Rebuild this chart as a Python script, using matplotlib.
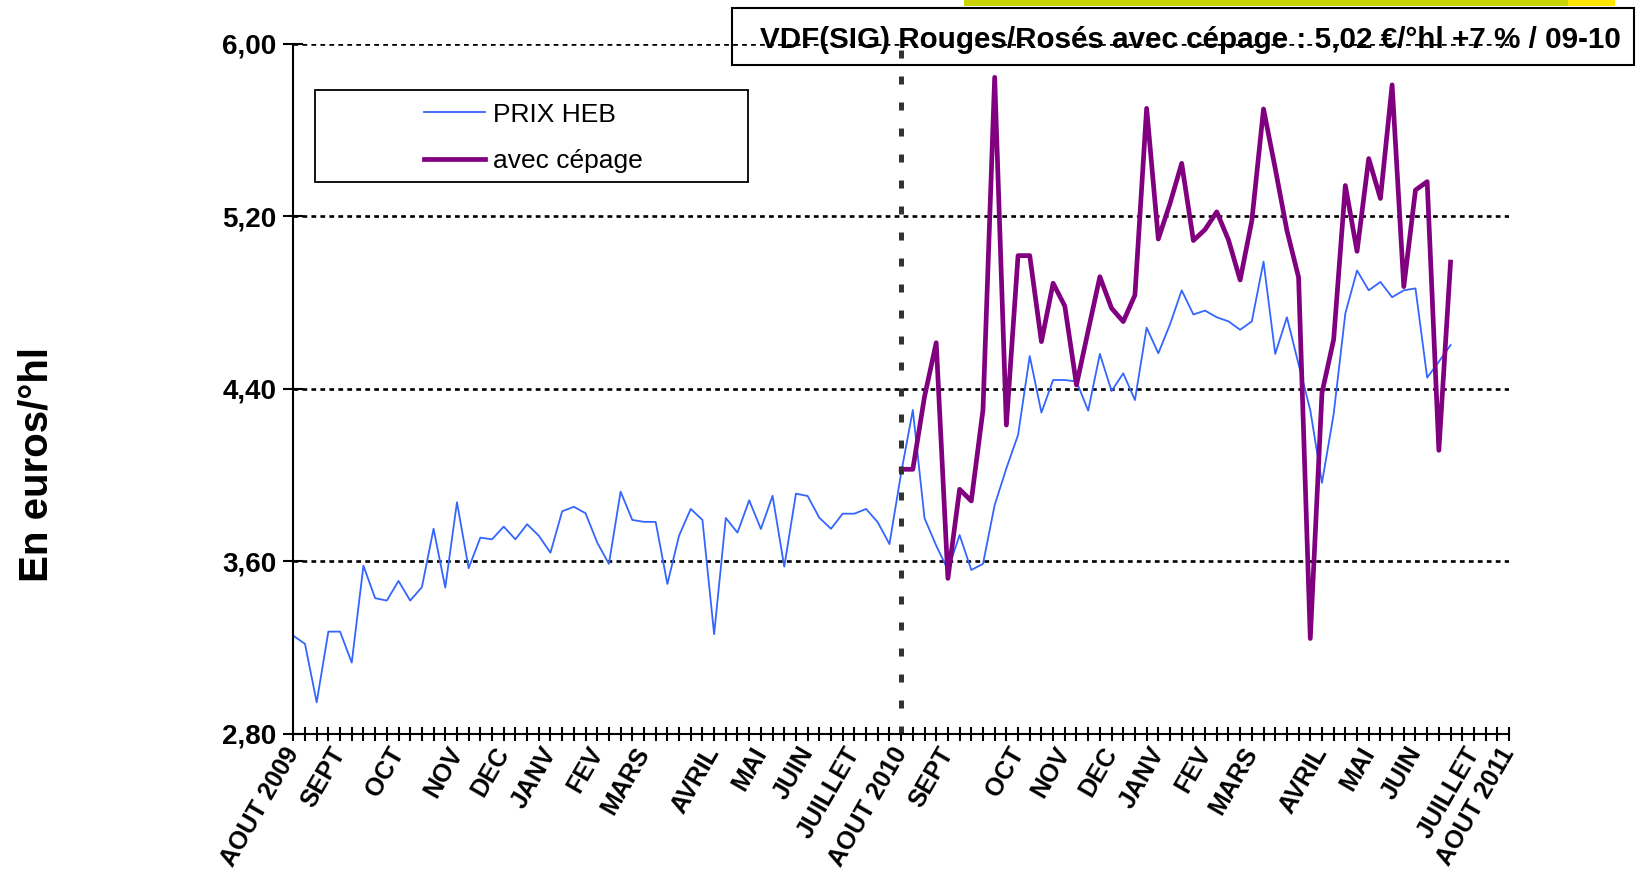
import numpy as np
import matplotlib.pyplot as plt
from matplotlib.patches import Rectangle
from matplotlib.transforms import ScaledTranslation

plt.rcParams['font.family'] = ['Liberation Sans', 'DejaVu Sans']

# prix hebdomadaires, semaine 0 = aout 2009
prix_heb = [3.255, 3.217, 2.946, 3.274, 3.274, 3.130, 3.580, 3.429, 3.418, 3.509,
            3.418, 3.480, 3.751, 3.478, 3.874, 3.568, 3.710, 3.702, 3.761, 3.702,
            3.772, 3.719, 3.640, 3.832, 3.853, 3.823, 3.687, 3.588, 3.923, 3.792,
            3.783, 3.783, 3.495, 3.719, 3.843, 3.792, 3.262, 3.801, 3.733, 3.883,
            3.750, 3.904, 3.575, 3.914, 3.903, 3.802, 3.751, 3.821, 3.821, 3.843,
            3.781, 3.680, 4.010, 4.302, 3.800, 3.673, 3.560, 3.722, 3.560, 3.588,
            3.861, 4.031, 4.186, 4.552, 4.290, 4.441, 4.441, 4.434, 4.299, 4.562,
            4.390, 4.472, 4.348, 4.684, 4.565, 4.699, 4.857, 4.745, 4.763, 4.732,
            4.713, 4.674, 4.713, 4.990, 4.562, 4.732, 4.514, 4.301, 3.964, 4.283,
            4.750, 4.949, 4.857, 4.896, 4.825, 4.857, 4.866, 4.452, 4.526, 4.603]

# avec cépage, à partir d'aout 2010 (semaine 52)
debut_cepage = 52
avec_cepage = [4.027, 4.027, 4.364, 4.614, 3.521, 3.934, 3.880, 4.302, 5.845, 4.232,
               5.018, 5.018, 4.619, 4.890, 4.784, 4.418, 4.670, 4.920, 4.774, 4.712,
               4.835, 5.701, 5.095, 5.260, 5.446, 5.088, 5.139, 5.221, 5.091, 4.905,
               5.180, 5.698, 5.423, 5.135, 4.917, 3.242, 4.381, 4.629, 5.343, 5.038,
               5.468, 5.283, 5.810, 4.874, 5.322, 5.361, 4.115, 4.988]

n_semaines = 104
mois = ['AOUT 2009', 'SEPT', 'OCT', 'NOV', 'DEC', 'JANV', 'FEV', 'MARS', 'AVRIL',
        'MAI', 'JUIN', 'JUILLET', 'AOUT 2010', 'SEPT', 'OCT', 'NOV', 'DEC', 'JANV',
        'FEV', 'MARS', 'AVRIL', 'MAI', 'JUIN', 'JUILLET', 'AOUT 2011']
mois_semaine = [0, 4, 9, 14, 18, 22, 26, 30, 36, 40, 44, 48, 52,
                56, 62, 66, 70, 74, 78, 82, 88, 92, 96, 101, 104]

y_ticks = [2.8, 3.6, 4.4, 5.2, 6.0]
y_labels = ['2,80', '3,60', '4,40', '5,20', '6,00']

titre = 'VDF(SIG) Rouges/Rosés avec cépage : 5,02 €/°hl +7 % / 09-10'

W, H = 1639, 874
fig = plt.figure(figsize=(W / 100, H / 100), dpi=100)
ax = fig.add_axes([293.3 / W, 1 - 733.8 / H, (1509 - 293.3) / W, (733.8 - 43.9) / H])

l1, = ax.plot(np.arange(len(prix_heb)), prix_heb, color='#3366ff', lw=1.3, label='PRIX HEB')
l2, = ax.plot(np.arange(debut_cepage, debut_cepage + len(avec_cepage)), avec_cepage,
              color='#800080', lw=3.4, label='avec cépage')

ax.axvline(debut_cepage, color='#333333', lw=3.6, linestyle=(0, (1.6, 3.6)))

ax.set_xlim(0, n_semaines)
ax.set_ylim(2.8, 6.0)

etiquettes = [''] * (n_semaines + 1)
for s, m in zip(mois_semaine, mois):
    etiquettes[s] = m
ax.set_xticks(range(n_semaines + 1), etiquettes, rotation=60, ha='right', va='center',
              rotation_mode='anchor', fontsize=18, fontweight='bold')
decalage = ScaledTranslation(-0.05, 0, fig.dpi_scale_trans)
for lab in ax.get_xticklabels():
    lab.set_transform(lab.get_transform() + decalage)
ax.set_yticks(y_ticks, y_labels, fontsize=20, fontweight='bold')
ax.tick_params(axis='x', direction='inout', length=9.5, width=1.5, pad=6)
ax.tick_params(axis='y', direction='inout', length=14, width=1.5, pad=5)

for side in ['top', 'right']:
    ax.spines[side].set_visible(False)
for side in ['left', 'bottom']:
    ax.spines[side].set_linewidth(1.5)

ax.grid(axis='y', color='black', linestyle=(0, (1.8, 1.6)), linewidth=1.9)
ax.grid(axis='x', visible=False)

# légende
fig.add_artist(Rectangle((315 / W, 1 - 182 / H), 433 / W, 92 / H, transform=fig.transFigure,
                         fill=False, ec='black', lw=1.3))
ax.legend(handles=[l1, l2], loc='center left', bbox_to_anchor=(424 / W, 1 - 138 / H),
          bbox_transform=fig.transFigure, frameon=False, fontsize=19, handlelength=2.3,
          handletextpad=0.3, labelspacing=0.87, borderpad=0, borderaxespad=0)

# bandeau titre
fig.add_artist(Rectangle((964 / W, 1 - 6.3 / H), 604 / W, 6.3 / H, transform=fig.transFigure,
                         fc='#c8d400', ec='none'))
fig.add_artist(Rectangle((1568 / W, 1 - 6.3 / H), 47 / W, 6.3 / H, transform=fig.transFigure,
                         fc='#ffe600', ec='none'))
fig.add_artist(Rectangle((731.7 / W, 1 - 64.8 / H), 902 / W, 56.4 / H, transform=fig.transFigure,
                         fill=False, ec='black', lw=1.5))
fig.text(1190 / W, 1 - 40 / H, titre, ha='center', va='center', fontsize=21.3, fontweight='bold')

fig.text(36.6 / W, 1 - 465 / H, 'En euros/°hl', rotation=90, ha='center', va='center',
         fontsize=29, fontweight='bold')

fig.savefig('out.png', dpi=100)
